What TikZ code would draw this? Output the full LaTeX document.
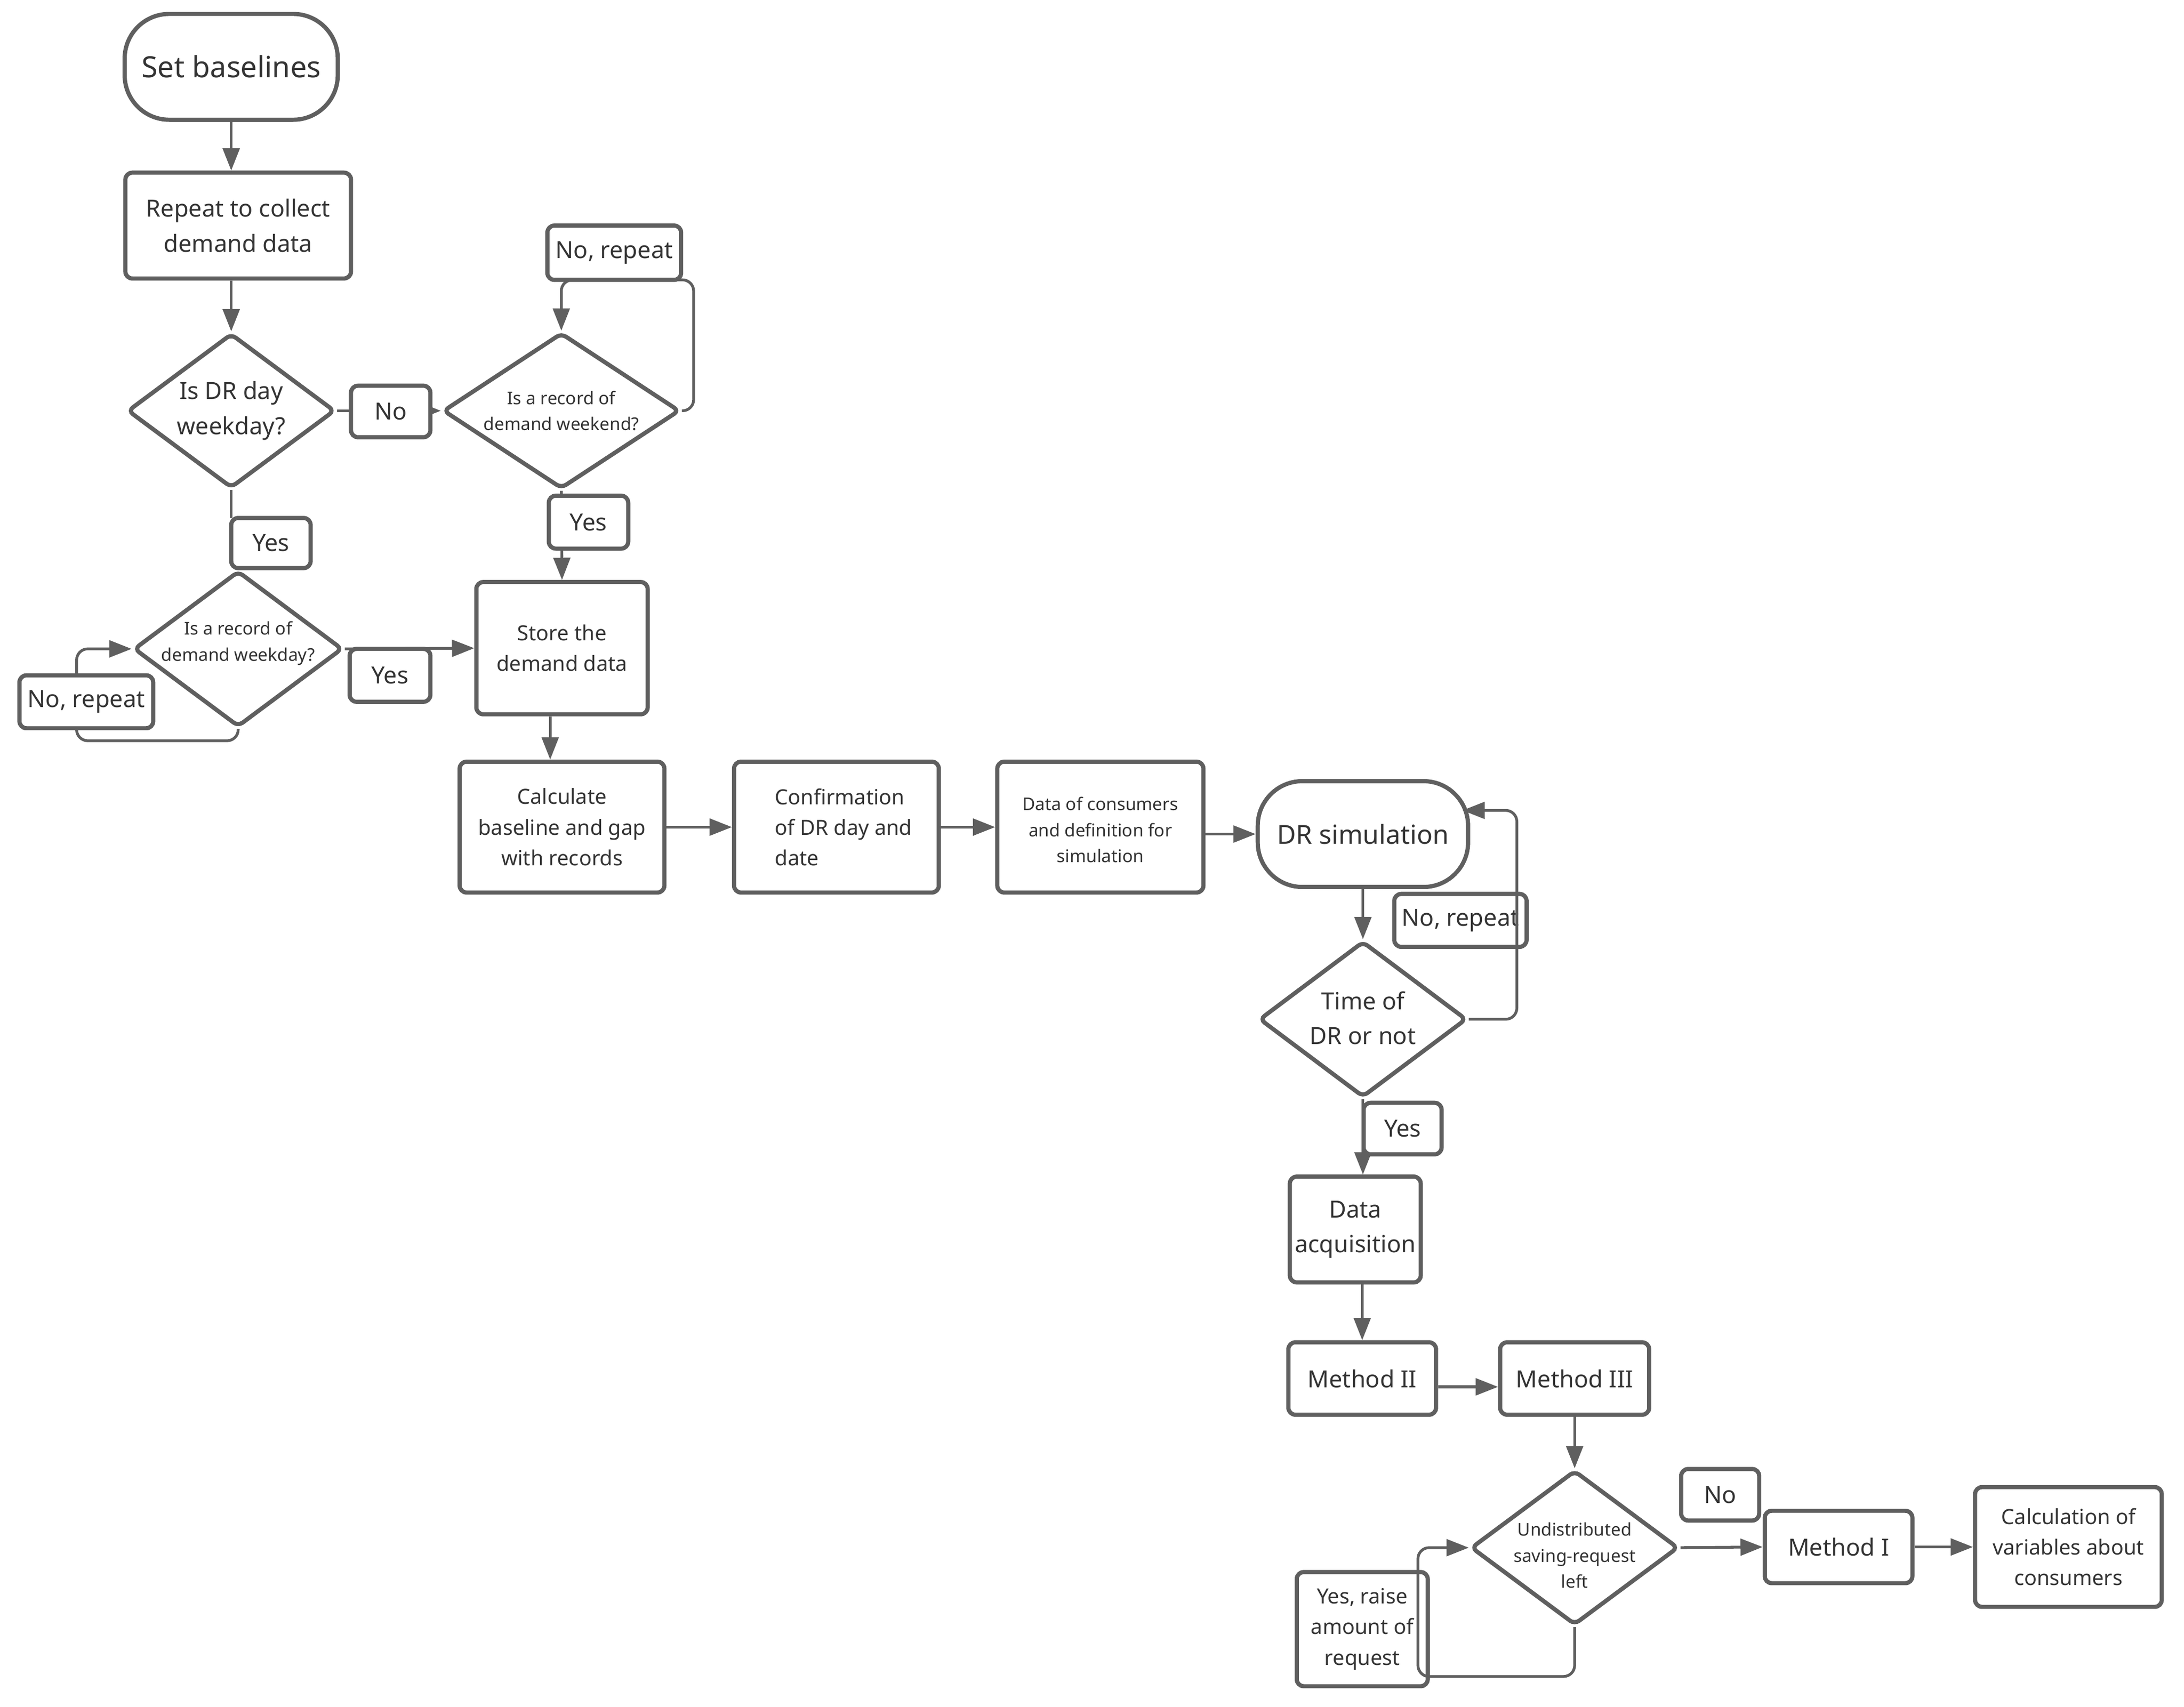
\documentclass[tikz,border=0pt]{standalone}
\usepackage{fontspec}
\setmainfont{Noto Sans}
\usetikzlibrary{arrows.meta,shapes.geometric}
\definecolor{lc}{HTML}{5F5F5F}
\definecolor{tc}{HTML}{333333}
\newcommand\myL{\fontsize{10.5}{13}\selectfont}
\newcommand\myD{\fontsize{9.4}{12}\selectfont}
\newcommand\myM{\fontsize{8.5}{12.5}\selectfont}
\newcommand\myT{\fontsize{7.5}{11}\selectfont}
\newcommand\myS{\fontsize{6.3}{9.3}\selectfont}
\begin{document}
\begin{tikzpicture}[x=0.5pt,y=-0.5pt,
 base/.style={draw=lc, line width=1.5pt, fill=white, text=tc, inner sep=0pt, align=center},
 box/.style={base, rectangle, rounded corners=2.5pt},
 term/.style={base, rectangle, rounded corners=16pt},
 dia/.style={base, diamond, rounded corners=2pt},
 txt/.style={text=tc, inner sep=0pt, align=center},
 conn/.style={draw=lc, line width=1pt, -{Triangle[length=8pt,width=6pt]}},
 plain/.style={draw=lc, line width=1pt},
]
\useasboundingbox[fill=white] (0,0) rectangle (1568,1225.9);

% main nodes
\node[term, minimum width=76.5pt, minimum height=38pt, font=\myL] (sb) at (166,48) {Set baselines};
\node[box, minimum width=81pt, minimum height=38pt, font=\myM] (rep) at (171,162) {Repeat to collect\\demand data};
\node[dia, minimum width=74.5pt, minimum height=55.5pt] (d1) at (166,295) {};
\node[txt, font=\myM] (d1t) at (166,295) {Is DR day\\weekday?};
\node[dia, minimum width=85pt, minimum height=56pt] (d2) at (403,295) {};
\node[txt, font=\myS] (d2t) at (403,295) {Is a record of\\demand weekend?};
\node[dia, minimum width=75pt, minimum height=56pt] (d3) at (171,466) {};
\node[txt, font=\myS] (d3t) at (171,462) {Is a record of\\demand weekday?};
\node[box, minimum width=61.5pt, minimum height=47.5pt, font=\myT] (store) at (403.5,465.5) {Store the\\demand data};
\node[box, minimum width=73.5pt, minimum height=47pt, font=\myT] (calc) at (403.5,594) {Calculate\\baseline and gap\\with records};
\node[box, minimum width=73.5pt, minimum height=47pt] (conf) at (600.5,594) {};
\node[txt, font=\myT, align=left, anchor=west] (conft) at (556,594) {Confirmation\\of DR day and\\date};
\node[box, minimum width=74pt, minimum height=47pt] (dat) at (790,594) {};
\node[txt, font=\myS] (datt) at (790,596) {Data of consumers\\and definition for\\simulation};
\node[term, minimum width=75.5pt, minimum height=38pt, font=\myD] (sim) at (978.5,599) {DR simulation};
\node[dia, minimum width=74.5pt, minimum height=56pt] (d4) at (978.5,732) {};
\node[txt, font=\myM] (d4t) at (978.5,731) {Time of\\DR or not};
\node[box, minimum width=47pt, minimum height=38pt, font=\myM] (acq) at (973,883) {Data\\acquisition};
\node[box, minimum width=53pt, minimum height=26pt, font=\myM] (m2) at (978,990) {Method II};
\node[box, minimum width=53.5pt, minimum height=26pt, font=\myM] (m3) at (1130.5,990) {Method III};
\node[dia, minimum width=74.5pt, minimum height=55.5pt] (d5) at (1130.5,1111.5) {};
\node[txt, font=\myS] (d5t) at (1130.5,1117) {Undistributed\\saving-request\\left};
\node[box, minimum width=53pt, minimum height=26pt, font=\myM] (m1) at (1320,1111) {Method I};
\node[box, minimum width=67pt, minimum height=43pt, font=\myT] (cv) at (1485,1111) {Calculation of\\variables about\\consumers};

% helper coordinates
\coordinate (sx) at (395,0);
\coordinate (ya) at (0,996);
\coordinate (lp2) at (498,201);
\coordinate (lp3) at (55,532);
\coordinate (lp4) at (1089,582);
\coordinate (simin) at (1050,582);
\coordinate (lp5) at (1018,1204);

% connectors
\draw[conn] (sb.south) -- (sb.south |- rep.north);
\draw[conn] (d1.north |- rep.south) -- (d1.north);
\draw[conn] (d1.east) -- (d2.west);
\draw[conn, rounded corners=4pt] (d2.east) -| (lp2) -| (d2.north);
\draw[conn] (d2.south) -- (store.north);
\draw[conn] (d3.east) -- (store.west);
\draw[conn, rounded corners=4pt] (d3.south) |- (lp3) |- (d3.west);
\draw[conn] (store.south -| sx) -- (calc.north -| sx);
\draw[conn] (calc.east) -- (conf.west);
\draw[conn] (conf.east) -- (dat.west);
\draw[conn] (dat.east |- sim.west) -- (sim.west);
\draw[conn] (sim.south) -- (d4.north);
\draw[conn] (d4.south) -- (d4.south |- acq.north);
\draw[conn] (m2.north |- acq.south) -- (m2.north);
\draw[conn] (m2.east |- ya) -- (m3.west |- ya);
\draw[conn] (m3.south) -- (d5.north);
\draw[conn] (d5.east) -- (m1.west);
\draw[conn] (m1.east) -- (cv.west);

% labels
\node[box, minimum width=28.5pt, minimum height=18.5pt, font=\myM] (no1) at (280.5,295.5) {No};
\node[box, minimum width=48pt, minimum height=19.5pt, font=\myM] (nr1) at (441,181.5) {No, repeat};
\node[box, minimum width=28.5pt, minimum height=19pt, font=\myM] (yes2) at (422.5,375) {Yes};
\draw[plain] (d1.south) -- (166,372);
\node[box, minimum width=28.5pt, minimum height=18pt, font=\myM] (yes1) at (194.5,390) {Yes};
\node[box, minimum width=29pt, minimum height=19pt, font=\myM] (yes3) at (280,485) {Yes};
\node[box, minimum width=48pt, minimum height=19pt, font=\myM] (nr2) at (62,504) {No, repeat};
\node[box, minimum width=47.5pt, minimum height=19pt, font=\myM] (nr3) at (1048.5,661) {No, repeat};
\node[box, minimum width=28pt, minimum height=18.5pt, font=\myM] (yes4) at (1007,810.5) {Yes};
\node[box, minimum width=28pt, minimum height=18.5pt, font=\myM] (no5) at (1235,1073.5) {No};
\node[box, minimum width=47pt, minimum height=41pt, font=\myT] (yr) at (978,1170) {Yes, raise\\amount of\\request};

% loops drawn over labels
\draw[conn, rounded corners=4pt] (d4.east) -| (lp4) -- (simin);
\draw[conn, rounded corners=4pt] (d5.south) |- (lp5) |- (d5.west);
\end{tikzpicture}
\end{document}
